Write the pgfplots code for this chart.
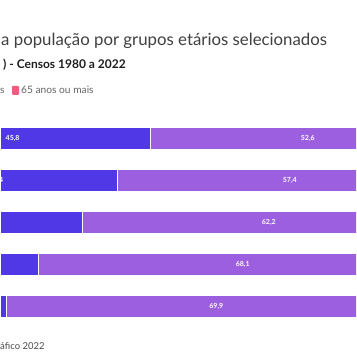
\documentclass[border=0pt]{standalone}
\usepackage{fontspec}
\setmainfont{Lato}
\usepackage{pgfplots}
\pgfplotsset{compat=1.18}
\definecolor{cblue}{HTML}{5038E6}
\definecolor{cpurple}{HTML}{9B5FE0}
\definecolor{cpink}{HTML}{EE5C7F}
\pgfplotsset{
  chartframe/.style={
    at={(0pt,36.5pt)}, anchor=south west,
    scale only axis, width=356pt, height=210pt,
    xmin=20.8, xmax=80.13, ymin=-0.5, ymax=4.5, y dir=reverse,
    hide axis,
  }
}
\begin{document}
\begin{tikzpicture}
\path[use as bounding box] (0,0) rectangle (356pt,364pt);
\clip (0,0) rectangle (356pt,364pt);
\fill[white] (0,0) rectangle (356pt,364pt);
\node[anchor=base west, inner sep=0pt, text=black!75, font=\fontsize{16.8}{19}\selectfont] at (1pt,318pt) {a população por grupos etários selecionados};
\node[anchor=base west, inner sep=0pt, text=black!88, font=\fontsize{12}{14}\selectfont\bfseries] at (3pt,295.5pt) {) - Censos 1980 a 2022};
\node[anchor=base west, inner sep=0pt, text=black!60, font=\fontsize{10.2}{12}\selectfont] at (0pt,270pt) {s};
\fill[cpink, rounded corners=1pt] (12pt,269pt) rectangle (19pt,278pt);
\node[anchor=base west, inner sep=0pt, text=black!60, font=\fontsize{10.2}{12}\selectfont] at (21pt,270pt) {65 anos ou mais};
\node[anchor=base west, inner sep=0pt, text=black!70, font=\fontsize{9.5}{11}\selectfont] at (0pt,14pt) {áfico 2022};
\begin{axis}[chartframe, clip=true, xbar stacked, bar width=22.5pt]
\addplot[fill=cblue, draw=white, line width=1pt] coordinates {
  (45.8,0) (40.4,1) (34.5,2) (27.2,3) (21.9,4)
};
\addplot[fill=cpurple, draw=white, line width=1pt] coordinates {
  (52.6,0) (57.4,1) (62.2,2) (68.1,3) (69.9,4)
};
\addplot[fill=cpink, draw=white, line width=1pt] coordinates {
  (1.6,0) (2.2,1) (3.3,2) (4.7,3) (8.2,4)
};
\end{axis}
\begin{axis}[chartframe, clip=false,
  nodes near coords, point meta=explicit symbolic,
  every node near coord/.append style={anchor=center, inner sep=0pt, text=white, font=\fontsize{7}{8}\selectfont\bfseries}]
\addplot[only marks, mark=none] coordinates {
  (22.9,0) [45,8]
  (20.2,1) [40,4]
  (72.1,0) [52,6]
  (69.1,1) [57,4]
  (65.6,2) [62,2]
  (61.25,3) [68,1]
  (56.85,4) [69,9]
};
\end{axis}
\end{tikzpicture}
\end{document}
